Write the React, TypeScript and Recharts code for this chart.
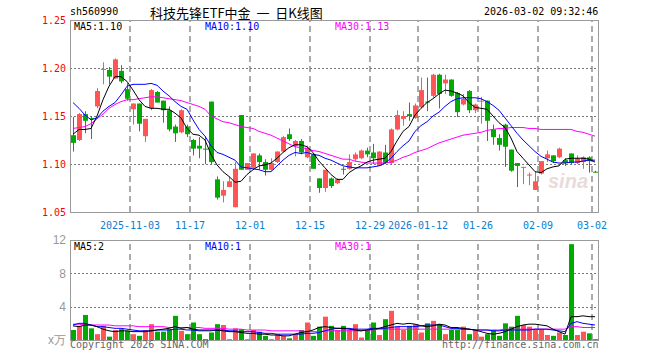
import React from 'react';
import { ComposedChart, Bar, Line, XAxis, YAxis, CartesianGrid, ReferenceLine } from 'recharts';

// trading days shown on the chart (2025-10-20 .. 2026-03-02)
const DATES = [
  '2025-10-20', '2025-10-21', '2025-10-22', '2025-10-23', '2025-10-24', '2025-10-27', '2025-10-28', '2025-10-29', '2025-10-30', '2025-10-31',
  '2025-11-03', '2025-11-04', '2025-11-05', '2025-11-06', '2025-11-07', '2025-11-10', '2025-11-11', '2025-11-12', '2025-11-13', '2025-11-14',
  '2025-11-17', '2025-11-18', '2025-11-19', '2025-11-20', '2025-11-21', '2025-11-24', '2025-11-25', '2025-11-26', '2025-11-27', '2025-11-28',
  '2025-12-01', '2025-12-02', '2025-12-03', '2025-12-04', '2025-12-05', '2025-12-08', '2025-12-09', '2025-12-10', '2025-12-11', '2025-12-12',
  '2025-12-15', '2025-12-16', '2025-12-17', '2025-12-18', '2025-12-19', '2025-12-22', '2025-12-23', '2025-12-24', '2025-12-25', '2025-12-26',
  '2025-12-29', '2025-12-30', '2025-12-31', '2026-01-05', '2026-01-06', '2026-01-07', '2026-01-08', '2026-01-09',
  '2026-01-12', '2026-01-13', '2026-01-14', '2026-01-15', '2026-01-16', '2026-01-19', '2026-01-20', '2026-01-21', '2026-01-22', '2026-01-23',
  '2026-01-26', '2026-01-27', '2026-01-28', '2026-01-29', '2026-01-30', '2026-02-02', '2026-02-03', '2026-02-04', '2026-02-05', '2026-02-06',
  '2026-02-09', '2026-02-10', '2026-02-11', '2026-02-12', '2026-02-13', '2026-02-24', '2026-02-25', '2026-02-26', '2026-02-27', '2026-03-02',
];

const OPEN = [
  1.130, 1.125, 1.152, 1.148, 1.160, 1.198, 1.198, 1.189, 1.197, 1.178,
  1.157, 1.163, 1.129, 1.158, 1.175, 1.166, 1.156, 1.139, 1.133, 1.139,
  1.125, 1.119, 1.116, 1.165, 1.084, 1.067, 1.076, 1.055, 1.151, 1.094,
  1.096, 1.109, 1.102, 1.094, 1.102, 1.113, 1.131, 1.119, 1.124, 1.107,
  1.110, 1.085, 1.075, 1.085, 1.080, 1.095, 1.095, 1.105, 1.106, 1.114,
  1.112, 1.098, 1.112, 1.101, 1.136, 1.147, 1.152, 1.148,
  1.159, 1.165, 1.171, 1.193, 1.184, 1.188, 1.174, 1.162, 1.176, 1.156,
  1.165, 1.166, 1.136, 1.127, 1.141, 1.115, 1.101, 1.096, 1.088, 1.073,
  1.090, 1.106, 1.109, 1.107, 1.104, 1.111, 1.101, 1.102, 1.107, 1.092,
];
const HIGH = [
  1.149, 1.153, 1.155, 1.150, 1.179, 1.206, 1.201, 1.210, 1.203, 1.184,
  1.163, 1.163, 1.147, 1.178, 1.176, 1.166, 1.160, 1.141, 1.157, 1.141,
  1.126, 1.128, 1.129, 1.165, 1.087, 1.082, 1.087, 1.102, 1.151, 1.101,
  1.111, 1.111, 1.105, 1.106, 1.113, 1.129, 1.137, 1.125, 1.126, 1.119,
  1.111, 1.085, 1.094, 1.086, 1.085, 1.097, 1.110, 1.112, 1.115, 1.117,
  1.121, 1.113, 1.120, 1.137, 1.156, 1.155, 1.164, 1.163,
  1.190, 1.190, 1.194, 1.194, 1.193, 1.188, 1.175, 1.173, 1.177, 1.163,
  1.170, 1.166, 1.141, 1.131, 1.142, 1.115, 1.101, 1.097, 1.091, 1.092,
  1.103, 1.114, 1.109, 1.117, 1.106, 1.111, 1.109, 1.108, 1.108, 1.093,
];
const LOW = [
  1.113, 1.124, 1.132, 1.126, 1.158, 1.183, 1.183, 1.189, 1.184, 1.166,
  1.141, 1.134, 1.123, 1.156, 1.164, 1.143, 1.134, 1.123, 1.132, 1.128,
  1.109, 1.106, 1.100, 1.100, 1.063, 1.060, 1.076, 1.055, 1.094, 1.094,
  1.095, 1.094, 1.088, 1.093, 1.101, 1.112, 1.124, 1.108, 1.110, 1.106,
  1.095, 1.070, 1.071, 1.075, 1.079, 1.089, 1.094, 1.103, 1.105, 1.107,
  1.100, 1.098, 1.100, 1.100, 1.135, 1.140, 1.145, 1.147,
  1.158, 1.155, 1.169, 1.158, 1.173, 1.170, 1.149, 1.161, 1.153, 1.153,
  1.142, 1.124, 1.120, 1.114, 1.097, 1.092, 1.076, 1.079, 1.078, 1.073,
  1.089, 1.102, 1.101, 1.106, 1.098, 1.100, 1.100, 1.095, 1.091, 1.091,
];
const CLOSE = [
  1.122, 1.152, 1.145, 1.147, 1.176, 1.199, 1.191, 1.209, 1.186, 1.168,
  1.163, 1.142, 1.147, 1.177, 1.164, 1.156, 1.136, 1.132, 1.156, 1.131,
  1.116, 1.116, 1.115, 1.102, 1.065, 1.073, 1.082, 1.095, 1.094, 1.101,
  1.111, 1.102, 1.094, 1.101, 1.113, 1.128, 1.126, 1.124, 1.112, 1.117,
  1.095, 1.075, 1.094, 1.077, 1.084, 1.094, 1.102, 1.110, 1.114, 1.110,
  1.106, 1.113, 1.101, 1.136, 1.151, 1.150, 1.150, 1.161,
  1.177, 1.164, 1.193, 1.173, 1.188, 1.171, 1.154, 1.168, 1.156, 1.162,
  1.166, 1.145, 1.128, 1.120, 1.118, 1.093, 1.098, 1.097, 1.089, 1.082,
  1.103, 1.110, 1.103, 1.116, 1.101, 1.101, 1.106, 1.107, 1.103, 1.091,
];

const MA5 = [
  1.131, 1.136, 1.136, 1.137, 1.150, 1.167, 1.181, 1.191, 1.191, 1.186,
  1.177, 1.167, 1.160, 1.158, 1.158, 1.157, 1.157, 1.153, 1.148, 1.137,
  1.131, 1.130, 1.125, 1.110, 1.099, 1.092, 1.087, 1.081, 1.082, 1.089,
  1.094, 1.098, 1.099, 1.101, 1.106, 1.112, 1.117, 1.120, 1.120, 1.118,
  1.112, 1.103, 1.096, 1.089, 1.084, 1.084, 1.091, 1.095, 1.098, 1.102,
  1.104, 1.105, 1.106, 1.113, 1.124, 1.134, 1.139, 1.151,
  1.158, 1.164, 1.168, 1.173, 1.177, 1.176, 1.174, 1.171, 1.164, 1.159,
  1.158, 1.157, 1.150, 1.143, 1.138, 1.127, 1.113, 1.106, 1.099, 1.092,
  1.091, 1.095, 1.097, 1.098, 1.105, 1.106, 1.106, 1.106, 1.105, 1.102,
];
const MA10 = [
  1.164, 1.158, 1.151, 1.146, 1.148, 1.155, 1.160, 1.164, 1.172, 1.181,
  1.183, 1.183, 1.183, 1.184, 1.182, 1.176, 1.171, 1.165, 1.160, 1.157,
  1.146, 1.136, 1.129, 1.119, 1.112, 1.110, 1.107, 1.104, 1.097, 1.096,
  1.095, 1.094, 1.092, 1.092, 1.098, 1.104, 1.109, 1.112, 1.111, 1.112,
  1.110, 1.109, 1.106, 1.104, 1.101, 1.098, 1.097, 1.096, 1.096, 1.096,
  1.097, 1.098, 1.101, 1.106, 1.113, 1.119, 1.124, 1.134,
  1.140, 1.144, 1.150, 1.154, 1.160, 1.165, 1.168, 1.169, 1.169, 1.169,
  1.168, 1.165, 1.161, 1.156, 1.148, 1.140, 1.132, 1.125, 1.119, 1.113,
  1.108, 1.105, 1.102, 1.101, 1.101, 1.102, 1.102, 1.103, 1.104, 1.104,
];
const MA30 = [
  1.137, 1.138, 1.139, 1.142, 1.147, 1.152, 1.158, 1.162, 1.165, 1.167,
  1.167, 1.168, 1.169, 1.170, 1.170, 1.169, 1.168, 1.167, 1.166, 1.164,
  1.162, 1.160, 1.157, 1.150, 1.147, 1.144, 1.143, 1.141, 1.139, 1.138,
  1.137, 1.134, 1.132, 1.130, 1.127, 1.124, 1.121, 1.118, 1.117, 1.116,
  1.114, 1.113, 1.111, 1.109, 1.107, 1.105, 1.105, 1.103, 1.102, 1.101,
  1.101, 1.101, 1.101, 1.102, 1.104, 1.107, 1.109, 1.112,
  1.114, 1.116, 1.119, 1.122, 1.124, 1.126, 1.128, 1.130, 1.131, 1.132,
  1.133, 1.135, 1.136, 1.137, 1.137, 1.138, 1.138, 1.138, 1.137, 1.137,
  1.136, 1.136, 1.136, 1.136, 1.136, 1.136, 1.134, 1.133, 1.131, 1.129,
];

// volume, 万手
const VOL = [
  1.2, 1.7, 3.0, 1.4, 0.7, 1.7, 0.4, 1.2, 1.3, 1.1,
  0.7, 0.5, 1.2, 1.9, 1.0, 1.0, 1.3, 2.9, 1.1, 0.7,
  2.1, 0.7, 0.1, 0.9, 1.9, 1.8, 0.1, 1.4, 1.3, 0.1,
  1.2, 1.0, 0.5, 0.1, 0.7, 0.5, 0.2, 0.7, 1.2, 2.1,
  0.5, 1.6, 2.8, 1.7, 1.2, 1.7, 1.2, 1.9, 0.3, 1.2,
  2.1, 0.6, 2.5, 3.5, 1.6, 1.2, 1.7, 1.9,
  0.9, 2.0, 2.3, 1.9, 0.7, 1.2, 1.2, 1.6, 0.7, 1.2,
  0.4, 0.7, 1.2, 0.5, 2.0, 1.6, 2.9, 1.8, 1.6, 1.3,
  1.3, 0.6, 0.5, 0.9, 0.6, 11.5, 0.6, 1.0, 0.8, 0.1,
];
const VMA5 = [
  1.7, 1.6, 1.8, 1.8, 1.6, 1.3, 1.1, 1.0, 1.1, 1.1,
  1.0, 1.0, 1.0, 1.1, 1.2, 1.3, 1.4, 1.6, 1.4, 1.5,
  1.3, 1.2, 1.2, 1.2, 1.2, 1.1, 1.0, 1.0, 0.9, 0.8,
  0.8, 0.7, 0.7, 0.6, 0.6, 0.5, 0.5, 0.7, 0.9, 1.0,
  1.2, 1.5, 1.6, 1.5, 1.4, 1.4, 1.3, 1.2, 1.1, 1.2,
  1.3, 1.4, 1.6, 1.8, 2.0, 1.9, 2.0, 1.9,
  1.7, 1.6, 1.7, 1.9, 1.8, 1.5, 1.5, 1.4, 1.3, 1.2,
  1.0, 0.8, 0.7, 0.8, 1.0, 1.3, 1.6, 1.8, 1.9, 1.9,
  1.8, 1.7, 1.3, 1.0, 0.7, 2.8, 2.8, 2.9, 2.8, 2.8,
];
const VMA10 = [
  1.8, 2.0, 2.0, 1.8, 1.6, 1.6, 1.5, 1.4, 1.4, 1.3,
  1.2, 1.1, 1.1, 1.1, 1.2, 1.2, 1.2, 1.3, 1.3, 1.2,
  1.2, 1.1, 1.1, 1.1, 1.2, 1.2, 1.1, 1.1, 1.0, 1.0,
  1.0, 0.9, 0.8, 0.8, 0.7, 0.7, 0.7, 0.7, 0.7, 0.8,
  0.8, 0.9, 1.1, 1.3, 1.4, 1.4, 1.4, 1.3, 1.3, 1.3,
  1.4, 1.4, 1.4, 1.5, 1.6, 1.6, 1.6, 1.6,
  1.7, 1.8, 1.8, 1.8, 1.6, 1.4, 1.4, 1.3, 1.3, 1.2,
  1.2, 1.2, 1.1, 1.1, 1.2, 1.2, 1.2, 1.2, 1.2, 1.3,
  1.3, 1.3, 1.2, 1.1, 1.0, 2.0, 2.2, 2.0, 1.9, 1.8,
];
const VMA30 = [
  1.9, 1.9, 1.8, 1.8, 1.8, 1.8, 1.8, 1.7, 1.7, 1.7,
  1.7, 1.6, 1.6, 1.6, 1.6, 1.6, 1.5, 1.5, 1.5, 1.5,
  1.5, 1.5, 1.4, 1.4, 1.4, 1.4, 1.3, 1.3, 1.3, 1.2,
  1.2, 1.2, 1.2, 1.1, 1.1, 1.1, 1.1, 1.1, 1.1, 1.0,
  1.0, 1.0, 1.1, 1.1, 1.1, 1.1, 1.1, 1.1, 1.1, 1.2,
  1.2, 1.3, 1.3, 1.3, 1.3, 1.3, 1.3, 1.3,
  1.3, 1.3, 1.3, 1.3, 1.3, 1.3, 1.3, 1.3, 1.3, 1.2,
  1.2, 1.2, 1.2, 1.2, 1.3, 1.3, 1.3, 1.3, 1.3, 1.3,
  1.3, 1.3, 1.3, 1.3, 1.3, 1.6, 1.6, 1.5, 1.5, 1.5,
];

const GRID_DATES = ['2025-11-03', '2025-11-17', '2025-12-01', '2025-12-15', '2025-12-29', '2026-01-12', '2026-01-26', '2026-02-09', '2026-03-02'];
const GRID_LABELS = ['2025-11-03', '11-17', '12-01', '12-15', '12-29', '2026-01-12', '01-26', '02-09', '03-02'];
const PRICE_TICKS = [1.05, 1.1, 1.15, 1.2, 1.25];
const VOL_TICKS = [0, 4, 8, 12];

const UP = '#ff5555';
const DOWN = '#00aa00';
const MONO = '"DejaVu Sans Mono", monospace';
const DOT = '#777777';
const DASH = '#888888';

const rows = DATES.map((date, i) => ({
  date,
  open: OPEN[i],
  high: HIGH[i],
  low: LOW[i],
  close: CLOSE[i],
  ma5: MA5[i],
  ma10: MA10[i],
  ma30: MA30[i],
  vol: VOL[i],
  vma5: VMA5[i],
  vma10: VMA10[i],
  vma30: VMA30[i],
}));

const Candle = (props: any) => {
  const { x, y, width, height, payload } = props;
  const top = Math.min(y, y + height);
  const bot = Math.max(y, y + height);
  const span = payload.high - payload.low;
  const k = span > 0 ? (bot - top) / span : 0;
  const color = payload.close >= payload.open ? UP : DOWN;
  const bTop = top + (payload.high - Math.max(payload.open, payload.close)) * k;
  const bBot = top + (payload.high - Math.min(payload.open, payload.close)) * k;
  const cx = Math.floor(x + width / 2) + 0.5;
  return (
    <g>
      <line x1={cx} x2={cx} y1={top} y2={bot} stroke={color} strokeWidth={1} />
      <rect x={Math.round(x)} y={bTop} width={Math.round(width)} height={Math.max(1, bBot - bTop)} fill={color} />
    </g>
  );
};

const VolBar = (props: any) => {
  const { x, y, width, height, payload } = props;
  const color = payload.close >= payload.open ? UP : DOWN;
  return <rect x={Math.round(x)} y={y} width={Math.round(width)} height={Math.max(0, height)} fill={color} />;
};

const label = (text: string, left: number, top: number, color: string, extra: any = {}) => (
  <div style={{ position: 'absolute', left, top, color, fontFamily: MONO, fontSize: 10, lineHeight: '12px', whiteSpace: 'nowrap', ...extra }}>
    {text}
  </div>
);

// dotted levels, snapped to whole pixels
const HLine = (p: any) => {
  const y = Math.round(p.y1) + 0.5;
  return <line key={p.key} x1={p.x1} x2={p.x2} y1={y} y2={y} stroke={DOT} strokeWidth={1} strokeDasharray="2 2" />;
};

// dashed separators on the left edge of each labelled day's slot
const dateLines = GRID_DATES.map((d) => (
  <ReferenceLine key={d} x={d} position="start" stroke={DASH} strokeWidth={1.4} strokeDasharray="6 4" />
));

export default function App() {
  const box = { position: 'absolute' as const, border: '1px solid #9a9a9a', boxSizing: 'border-box' as const, pointerEvents: 'none' as const };
  return (
    <div style={{ position: 'fixed', left: 0, top: 0, width: 660, height: 360, background: '#fff', overflow: 'hidden' }}>
      {label('sh560990', 70, 6, '#000')}
      <div style={{ position: 'absolute', left: 150, top: 4, fontFamily: '"Noto Sans CJK SC", sans-serif', fontSize: 13, lineHeight: '17px', color: '#000', whiteSpace: 'pre' }}>
        {'科技先锋ETF中金  一  日K线图'}
      </div>
      {label('2026-03-02 09:32:46', 484, 6, '#000')}

      <div style={{ position: 'absolute', left: 0, top: 0 }}>
        <ComposedChart width={660} height={232} data={rows} margin={{ top: 20, right: 62, bottom: 0, left: 0 }}>
          <CartesianGrid vertical={false} horizontal={HLine} />
          {dateLines}
          <XAxis
            dataKey="date"
            ticks={GRID_DATES}
            interval={0}
            height={20}
            axisLine={false}
            tickLine={false}
            tickSize={6}
            tickMargin={4}
            tickFormatter={(d: string) => GRID_LABELS[GRID_DATES.indexOf(d)]}
            tick={{ fill: '#0a80d0', fontSize: 10, fontFamily: MONO, dx: -3 }}
          />
          <YAxis
            domain={[1.05, 1.25]}
            ticks={PRICE_TICKS}
            width={70}
            axisLine={false}
            tickLine={false}
            tickSize={4}
            tickMargin={0}
            tickFormatter={(v: number) => v.toFixed(2)}
            tick={{ fill: '#ff0000', fontSize: 10, fontFamily: MONO }}
          />
          <Bar dataKey={(d: any) => [d.low, d.high]} barSize={5} shape={(p: any) => <Candle {...p} />} isAnimationActive={false} />
          <Line dataKey="ma30" stroke="#ff00ff" strokeWidth={1} dot={false} activeDot={false} isAnimationActive={false} />
          <Line dataKey="ma10" stroke="#0000ff" strokeWidth={1} dot={false} activeDot={false} isAnimationActive={false} />
          <Line dataKey="ma5" stroke="#000000" strokeWidth={1} dot={false} activeDot={false} isAnimationActive={false} />
        </ComposedChart>
      </div>

      <div style={{ position: 'absolute', left: 0, top: 232 }}>
        <ComposedChart width={660} height={128} data={rows} margin={{ top: 8, right: 62, bottom: 20, left: 0 }}>
          <CartesianGrid vertical={false} horizontal={HLine} />
          {dateLines}
          <XAxis dataKey="date" hide />
          <YAxis
            domain={[0, 12]}
            ticks={VOL_TICKS}
            width={70}
            axisLine={false}
            tickLine={false}
            tickSize={4}
            tickMargin={0}
            tickFormatter={(v: number) => (v === 0 ? 'x万' : String(v))}
            tick={{ fill: '#999999', fontSize: 12, fontFamily: '"Liberation Sans", Arial, sans-serif' }}
          />
          <Bar dataKey="vol" barSize={5} shape={(p: any) => <VolBar {...p} />} isAnimationActive={false} />
          <Line dataKey="vma30" stroke="#ff00ff" strokeWidth={1} dot={false} activeDot={false} isAnimationActive={false} />
          <Line dataKey="vma10" stroke="#0000ff" strokeWidth={1} dot={false} activeDot={false} isAnimationActive={false} />
          <Line dataKey="vma5" stroke="#000000" strokeWidth={1} dot={false} activeDot={false} isAnimationActive={false} />
        </ComposedChart>
      </div>

      <div style={{ ...box, left: 70, top: 20, width: 529, height: 193 }} />
      <div style={{ ...box, left: 70, top: 240, width: 529, height: 101 }} />

      {label('MA5:1.10', 74, 21, '#000')}
      {label('MA10:1.10', 205, 21, '#0000ff')}
      {label('MA30:1.13', 335, 21, '#ff00ff')}
      {label('MA5:2', 74, 241, '#000')}
      {label('MA10:1', 205, 241, '#0000ff')}
      {label('MA30:1', 335, 241, '#ff00ff')}

      <div style={{ position: 'absolute', left: 548, top: 170, fontFamily: '"Liberation Sans", Arial, sans-serif', fontStyle: 'italic', fontWeight: 700, fontSize: 20, color: '#e6d2d2', opacity: 0.8 }}>
        sina
      </div>

      {label('Copyright 2026 SINA.COM', 70, 339, '#666')}
      {label('http://finance.sina.com.cn', 442, 339, '#666')}
    </div>
  );
}
